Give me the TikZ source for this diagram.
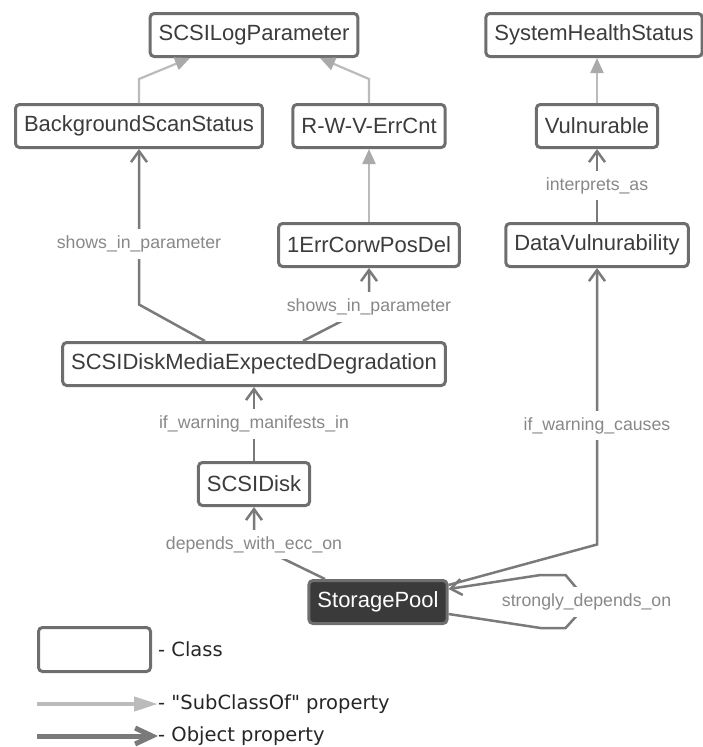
\documentclass[tikz,border=0pt]{standalone}
\usepackage{fontspec}
\setmainfont{Liberation Sans}
\newfontfamily\legendfont{DejaVu Sans}
\usetikzlibrary{arrows.meta}
\definecolor{boxgray}{HTML}{6E6E6E}
\definecolor{textgray}{HTML}{3C3C3C}
\definecolor{subgray}{HTML}{BBBBBB}
\definecolor{subtip}{HTML}{AAAAAA}
\definecolor{objgray}{HTML}{7A7A7A}
\definecolor{lblgray}{HTML}{888888}
\definecolor{poolfill}{HTML}{3A3A3A}

\begin{document}
\begin{tikzpicture}[x=1pt,y=-1pt,
  class node/.style={draw=boxgray,line width=3pt,rounded corners=4pt,fill=white,text=textgray,font=\fontsize{22}{24}\selectfont,minimum height=43pt,inner xsep=8.5pt},
  sub edge/.style={draw=subgray,line width=2.2pt,-{Triangle[length=15pt,width=13pt,color=subtip]}},
  obj edge/.style={draw=objgray,line width=2.5pt,-{Straight Barb[length=11pt,width=16pt]}},
  lbl/.style={fill=white,text=lblgray,font=\fontsize{17.7}{20}\selectfont,inner xsep=2pt,inner ysep=6.5pt},
  legend text/.style={font=\legendfont\fontsize{19.5}{22}\selectfont,text=black!85,inner sep=0pt,anchor=west}]
  \useasboundingbox (0,0) rectangle (702,747);

  % classes
  \node[class node] (1) at (254,35) {SCSILogParameter};
  \node[class node] (2) at (594,35) {SystemHealthStatus};
  \node[class node] (3) at (139,126) {BackgroundScanStatus};
  \node[class node] (4) at (369,126) {R-W-V-ErrCnt};
  \node[class node] (5) at (597,126) {Vulnurable};
  \node[class node] (6) at (369,245) {1ErrCorwPosDel};
  \node[class node] (7) at (597,245) {DataVulnurability};
  \node[class node] (8) at (254,364) {SCSIDiskMediaExpectedDegradation};
  \node[class node] (9) at (254,484) {SCSIDisk};
  \node[class node,fill=poolfill,text=white] (10) at (378,602) {StoragePool};

  % subclass of
  \draw[sub edge] (3.north) -- ++(0,-24) -- ([xshift=-64]1.south);
  \draw[sub edge] (4.north) -- ++(0,-24) -- ([xshift=66]1.south);
  \draw[sub edge] (5.north) -- (5.north |- 2.south);
  \draw[sub edge] (6.north) -- (6.north |- 4.south);

  % object properties
  \draw[obj edge] (7.north) -- node[lbl]{interprets\_as} (5.south);
  \draw[obj edge] (9.north) -- node[lbl]{if\_warning\_manifests\_in} (8.south);
  \draw[obj edge] ([xshift=-49]8.north) -- ([yshift=-155.5]3.south) -- node[lbl,pos=0.39]{shows\_in\_parameter} (3.south);
  \draw[obj edge] ([xshift=49]8.north) -- ([yshift=-39]6.south) node[lbl]{shows\_in\_parameter} -- (6.south);
  \draw[obj edge] ([xshift=-53]10.north) -- ([yshift=-37.5]9.south) node[lbl]{depends\_with\_ecc\_on} -- (9.south);
  \draw[obj edge] ([yshift=17]10.east) -- ([yshift=-276.5]7.south) -- node[lbl,pos=0.43]{if\_warning\_causes} (7.south);
  \draw[obj edge] ([yshift=-12]10.east) -- ++(92,14) -- ++(25,0) -- ++(10,-11)
    -- node[lbl,xshift=11]{strongly\_depends\_on} ++(0,-30) -- ++(-10,-12) -- ++(-25,0) -- ([yshift=13]10.east);

  % legend
  \node[class node,minimum width=112pt,minimum height=44pt] (11) at (94.5,649.5) {};
  \node[legend text] (12) at (158,649.5) {- Class};
  \node[legend text] (13) at (158,704) {- "SubClassOf" property};
  \node[legend text] (14) at (158,736) {- Object property};
  \coordinate (c1) at (37,704);
  \coordinate (c2) at (37,736);
  \draw[sub edge,line width=4pt,-{Triangle[length=24pt,width=14pt,color=subgray]}] (c1) -- (13.west);
  \draw[obj edge,line width=5pt,-{Straight Barb[length=17pt,width=16pt]}] (c2) -- (14.west);
\end{tikzpicture}
\end{document}
